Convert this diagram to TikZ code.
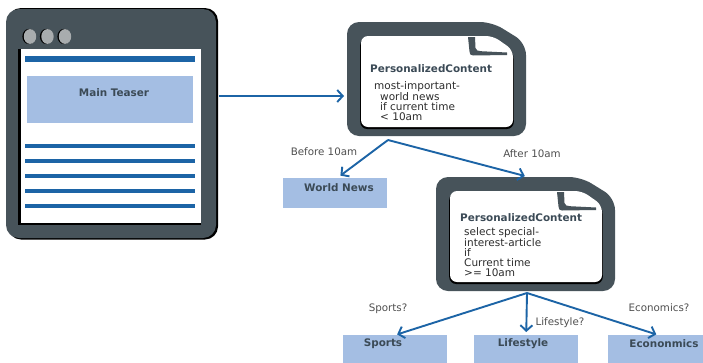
\documentclass[tikz,border=0pt]{standalone}
\usepackage{fontspec}
\setmainfont{DejaVu Sans}
\usetikzlibrary{arrows.meta,calc}
\definecolor{slate}{RGB}{71,83,90}
\definecolor{bluel}{RGB}{28,100,166}
\definecolor{boxblue}{RGB}{164,190,227}
\definecolor{dotgray}{RGB}{168,172,174}
\definecolor{boldtxt}{RGB}{59,74,86}
\definecolor{lbltxt}{RGB}{80,80,80}
\definecolor{bodytxt}{RGB}{45,45,45}
\tikzset{
  arr/.style={draw=bluel, line width=1.9pt, -{Straight Barb[length=5.5pt,width=12pt]}},
  boxnode/.style={fill=boxblue, minimum width=104pt, minimum height=30pt, inner sep=0pt, anchor=north west},
  boldlabel/.style={font=\fontsize{10.4}{12}\selectfont\bfseries, text=boldtxt, inner sep=0pt},
  edgelabel/.style={font=\fontsize{10.3}{12}\selectfont, text=lbltxt, inner sep=0pt},
  bodytext/.style={font=\fontsize{10.5}{9.8}\selectfont, text=bodytxt, align=left, inner sep=0pt, anchor=north west},
  hline/.style={draw=bluel, line width=4pt},
}
\newcommand{\docshape}[1]{%
  \begin{scope}[shift={#1}]
    \fill[slate, rounded corners=12pt] (0,0) -- (145,0) -- (179,21) -- (179,114) -- (0,114) -- cycle;
    \fill[black, rounded corners=7pt] (13.2,16) -- (146,16) -- (166.8,30) -- (166.8,107) -- (13.2,107) -- cycle;
    \fill[white, rounded corners=7pt] (14,14) -- (146,14) -- (166,28) -- (166,105) -- (14,105) -- cycle;
    \fill[slate] (121,15) -- (128,15) -- (128.5,26) .. controls (129,28.5) and (131,29) .. (134,29.2) -- (160,30.5) -- (160,33) -- (126,33.5) .. controls (123.5,33.5) and (122.5,32) .. (122.5,29.5) -- cycle;
  \end{scope}}
\begin{document}
\begin{tikzpicture}[x=1pt,y=-1pt]
\useasboundingbox (0,0) rectangle (703,362);
\fill[white] (0,0) rectangle (703,362);

% browser window
\fill[black, rounded corners=13pt] (8,8) rectangle (218,239.5);
\fill[slate, rounded corners=13pt] (6,9) rectangle (216,238);
\node[minimum width=210pt, minimum height=229pt, inner sep=0pt, anchor=north west] (win) at (6,9) {};
\foreach \cx in {30,47.5,65} {
  \fill[black] (\cx-1.2,36.5) ellipse [x radius=6.4pt, y radius=7.6pt];
  \fill[dotgray] (\cx,36.5) ellipse [x radius=6.2pt, y radius=7.4pt];
}
\fill[black] (18,49) rectangle (201,225);
\fill[white] (20.5,49) rectangle (201,222.5);
\draw[draw=bluel, line width=6pt] (25,58.5) -- (195,58.5);
\node[fill=boxblue, minimum width=166pt, minimum height=47pt, inner sep=0pt, anchor=north west] (teaser) at (27,76) {};
\node[boldlabel] (teasert) at (114,93) {Main Teaser};
\foreach \ly in {146,161,176,191,206} {
  \draw[hline] (25,\ly) -- (195,\ly);
}

% documents
\docshape{(347,22)}
\node[minimum width=179pt, minimum height=114pt, inner sep=0pt, anchor=north west] (d1) at (347,22) {};
\node[boldlabel, anchor=west] (d1title) at (370,69) {PersonalizedContent};
\node[bodytext] (d1body) at (374,81.5) {most-important-\\\hspace*{6pt}world news\\\hspace*{6pt}if current time\\\hspace*{6pt}< 10am};

\docshape{(436,177)}
\node[minimum width=179pt, minimum height=114pt, inner sep=0pt, anchor=north west] (d2) at (436,177) {};
\node[boldlabel, anchor=west] (d2title) at (460,218) {PersonalizedContent};
\node[bodytext] (d2body) at (464,227.5) {select special-\\interest-article\\if\\Current time\\>= 10am};

% boxes
\node[boxnode] (wn) at (283,178) {};
\node[boldlabel] (wnt) at (339,188) {World News};
\node[boxnode] (sports) at (343,335) {};
\node[boldlabel] (sportst) at (383,344) {Sports};
\node[boxnode] (life) at (474,335) {};
\node[boldlabel] (lifet) at (523,344) {Lifestyle};
\node[boxnode] (econ) at (608,335) {};
\node[boldlabel] (econt) at (664,344) {Econonmics};

% connectors
\coordinate (wout) at (219,96);
\coordinate (d1in) at (344,96);
\coordinate (d1out) at (388,140);
\coordinate (d2out) at (527,293);
\draw[arr] (wout) -- (d1in);
\draw[arr, shorten >=4pt] (d1out) -- ($(wn.north)+(2,0)$);
\draw[arr, shorten >=4pt] (d1out) -- ($(d2.north)+(3,0)$);
\draw[arr, shorten >=2pt] (d2out) -- (sports.north);
\draw[arr, shorten >=3pt] (d2out) -- (life.north);
\draw[arr, shorten >=2pt] (d2out) -- ($(econ.north)+(-2,0)$);

% labels
\node[edgelabel] (lb1) at (324,152) {Before 10am};
\node[edgelabel] (lb2) at (532,154) {After 10am};
\node[edgelabel] (lb3) at (388,309) {Sports?};
\node[edgelabel] (lb4) at (560,323) {Lifestyle?};
\node[edgelabel] (lb5) at (659,308) {Economics?};
\end{tikzpicture}
\end{document}
